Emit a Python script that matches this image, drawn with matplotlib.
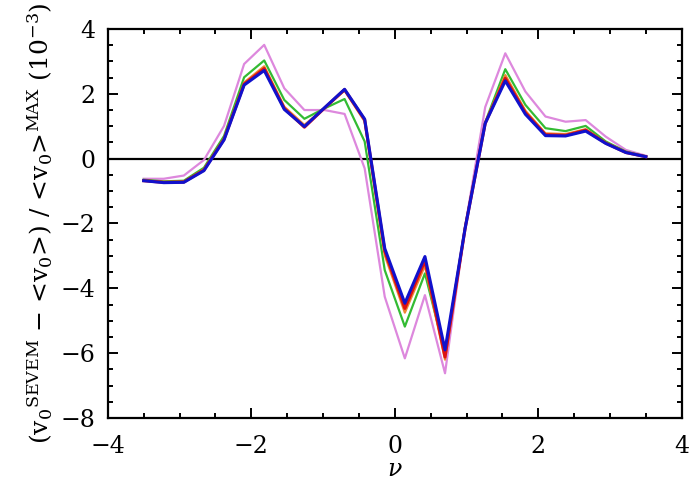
import matplotlib
matplotlib.use('Agg')
import matplotlib.pyplot as plt
from matplotlib.ticker import MultipleLocator

nu = [-3.50, -3.22, -2.94, -2.66, -2.38, -2.10, -1.82, -1.54, -1.26,
      -0.98, -0.70, -0.42, -0.14, 0.14, 0.42, 0.70, 0.98, 1.26,
      1.54, 1.82, 2.10, 2.38, 2.66, 2.94, 3.22, 3.50]

violet = [-0.62, -0.62, -0.52, -0.04, 1.01, 2.92, 3.51, 2.17, 1.50,
          1.50, 1.38, -0.30, -4.26, -6.16, -4.21, -6.62, -2.10, 1.59,
          3.25, 2.07, 1.30, 1.14, 1.19, 0.68, 0.27, 0.09]
green = [-0.65, -0.70, -0.68, -0.28, 0.70, 2.51, 3.03, 1.81, 1.23,
         1.55, 1.84, 0.53, -3.44, -5.18, -3.54, -6.00, -2.10, 1.12,
         2.76, 1.66, 0.94, 0.85, 1.01, 0.53, 0.22, 0.07]
orange = [-0.67, -0.72, -0.71, -0.33, 0.62, 2.35, 2.85, 1.60, 1.04,
          1.56, 2.10, 1.15, -2.98, -4.75, -3.30, -6.20, -2.15, 1.10,
          2.58, 1.48, 0.78, 0.76, 0.91, 0.49, 0.20, 0.06]
red = [-0.68, -0.73, -0.72, -0.35, 0.60, 2.30, 2.78, 1.55, 0.97,
       1.56, 2.13, 1.20, -2.85, -4.62, -3.15, -6.12, -2.15, 1.09,
       2.48, 1.42, 0.74, 0.72, 0.88, 0.48, 0.19, 0.06]
blue = [-0.68, -0.74, -0.73, -0.37, 0.58, 2.27, 2.72, 1.52, 0.99,
        1.57, 2.14, 1.22, -2.77, -4.46, -3.02, -5.90, -2.15, 1.09,
        2.40, 1.37, 0.71, 0.70, 0.85, 0.47, 0.19, 0.06]

xticks = [-4, -2, 0, 2, 4]
yticks = [-8, -6, -4, -2, 0, 2, 4]

plt.rcParams['font.family'] = ['DejaVu Serif']
plt.rcParams['mathtext.fontset'] = 'dejavuserif'
fig = plt.figure(figsize=(7, 5), dpi=100)
ax = fig.add_axes([0.154, 0.164, 0.82, 0.778])

ax.axhline(0, color='black', lw=1.6, zorder=1)
ax.plot(nu, violet, color='#dd88dd', lw=1.6, zorder=2)
ax.plot(nu, green, color='#33bb33', lw=1.6, zorder=3)
ax.plot(nu, orange, color='#ee8833', lw=1.6, zorder=4)
ax.plot(nu, red, color='#dd1111', lw=2.2, zorder=5)
ax.plot(nu, blue, color='#1111cc', lw=2.2, zorder=6)

ax.set_xlim(-4, 4)
ax.set_ylim(-8, 4)
ax.set_xticks(xticks)
ax.set_yticks(yticks)
ax.set_xticklabels(['\u2212' + str(-t) if t < 0 else str(t) for t in xticks])
ax.set_yticklabels(['\u2212' + str(-t) if t < 0 else str(t) for t in yticks])
ax.xaxis.set_minor_locator(MultipleLocator(0.5))
ax.yaxis.set_minor_locator(MultipleLocator(0.5))
ax.tick_params(which='both', direction='in', top=True, right=True,
               width=1.4, labelsize=17)
ax.tick_params(axis='x', pad=12)
ax.tick_params(axis='y', pad=9)
ax.tick_params(which='major', length=7)
ax.tick_params(which='minor', length=3.5)
for s in ax.spines.values():
    s.set_linewidth(1.6)

ax.set_xlabel(r'$\nu$', fontsize=17, labelpad=0)
ax.set_ylabel(r'(v$_0$$^{\mathrm{SEVEM}}$ $-$ <v$_0$>) / <v$_0$>$^{\mathrm{MAX}}$ (10$^{-3}$)',
              fontsize=18, labelpad=4)

fig.savefig('out.png', dpi=100)
